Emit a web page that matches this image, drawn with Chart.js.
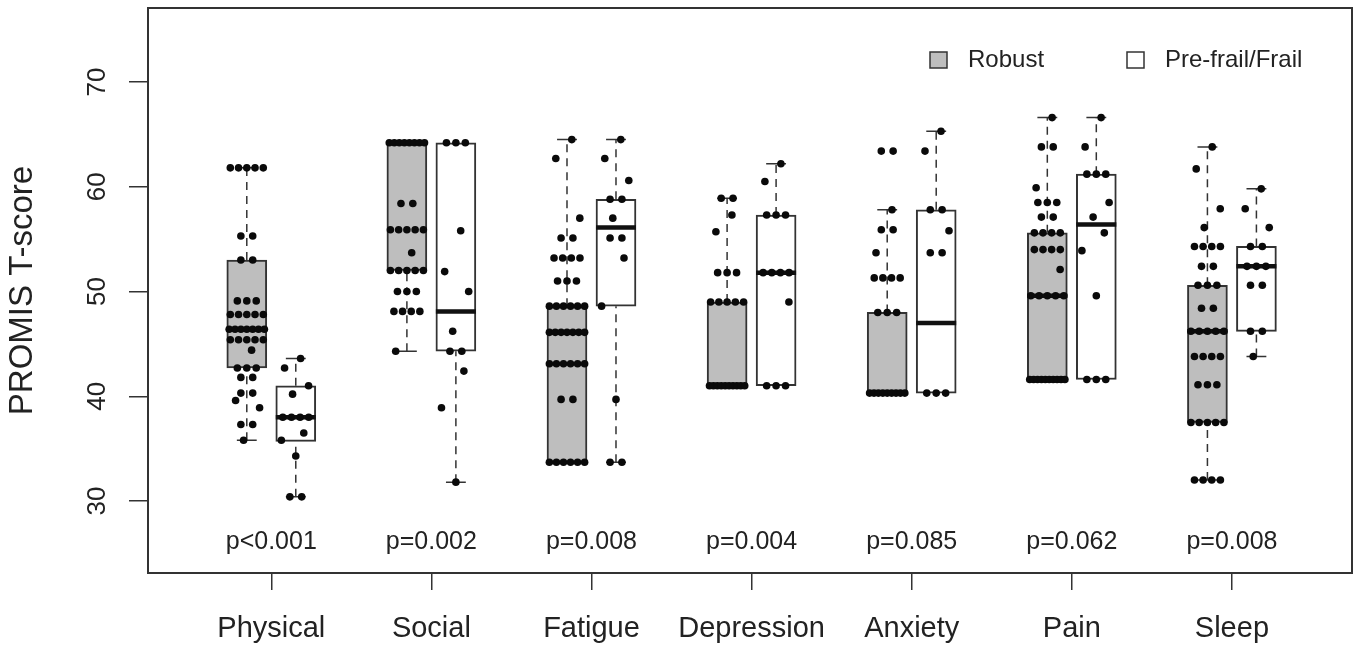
<!DOCTYPE html>
<html>
<head>
<meta charset="utf-8">
<script src="https://cdn.jsdelivr.net/npm/chart.js@4.4.1/dist/chart.umd.min.js"></script>
<style>
  html, body { margin: 0; padding: 0; background: #fff; }
  #wrap { width: 1357px; height: 648px; }
</style>
</head>
<body>
<div id="wrap"><canvas id="chart"></canvas></div>
<script>
"use strict";

const domains = ["Physical", "Social", "Fatigue", "Depression", "Anxiety", "Pain", "Sleep"];
const pValues = ["p<0.001", "p=0.002", "p=0.008", "p=0.004", "p=0.085", "p=0.062", "p=0.008"];
const yTicks = [30, 40, 50, 60, 70];
const groupNames = ["Robust", "Pre-frail/Frail"];

// box statistics, one entry per domain
const robustLow    = [35.8, 44.3, 33.7, 41.0, 40.3, 41.6, 32.0];
const robustQ1     = [42.7, 52.0, 33.7, 41.0, 40.3, 41.6, 37.5];
const robustMedian = [46.4, 64.2, 46.1, 41.0, 40.3, 49.6, 46.2];
const robustQ3     = [53.0, 64.2, 48.6, 49.0, 48.0, 55.6, 50.6];
const robustHigh   = [61.8, 64.2, 64.5, 58.9, 57.8, 66.6, 63.8];

const frailLow    = [30.4, 31.8, 33.7, 41.0, 40.3, 41.6, 43.8];
const frailQ1     = [35.7, 44.3, 48.6, 41.0, 40.3, 41.6, 46.2];
const frailMedian = [38.0, 48.1, 56.1, 51.8, 47.0, 56.4, 52.4];
const frailQ3     = [41.0, 64.2, 58.8, 57.3, 57.8, 61.2, 54.3];
const frailHigh   = [43.6, 64.2, 64.5, 62.2, 65.3, 66.6, 59.8];

// individual T-scores
const robustScores = [
    [61.8, 61.8, 61.8, 61.8, 61.8, 55.3, 55.3, 53.0, 53.0, 49.1, 49.1, 49.1,
     47.8, 47.8, 47.8, 47.8, 47.8, 46.4, 46.4, 46.4, 46.4, 46.4, 46.4, 46.4,
     45.4, 45.4, 45.4, 45.4, 45.4, 44.4, 42.7, 42.7, 42.7, 41.8, 41.8, 40.3, 40.3,
     39.6, 38.9, 37.3, 37.3, 35.8],
    [64.2, 64.2, 64.2, 64.2, 64.2, 64.2, 64.2, 64.2, 58.4, 58.4,
     55.9, 55.9, 55.9, 55.9, 55.9, 53.7, 52.0, 52.0, 52.0, 52.0, 52.0,
     50.0, 50.0, 50.0, 48.1, 48.1, 48.1, 48.1, 44.3],
    [64.5, 62.7, 57.0, 55.1, 55.1, 53.2, 53.2, 53.2, 53.2, 51.0, 51.0, 51.0,
     48.6, 48.6, 48.6, 48.6, 48.6, 48.6, 46.1, 46.1, 46.1, 46.1, 46.1, 46.1, 46.1,
     43.1, 43.1, 43.1, 43.1, 43.1, 43.1, 39.7, 39.7,
     33.7, 33.7, 33.7, 33.7, 33.7, 33.7],
    [58.9, 58.9, 57.3, 55.7, 51.8, 51.8, 51.8, 49.0, 49.0, 49.0, 49.0, 49.0,
     41.0, 41.0, 41.0, 41.0, 41.0, 41.0, 41.0, 41.0, 41.0, 41.0],
    [63.4, 63.4, 57.8, 55.9, 55.9, 53.7, 51.3, 51.3, 51.3, 51.3, 48.0, 48.0, 48.0,
     40.3, 40.3, 40.3, 40.3, 40.3, 40.3, 40.3, 40.3, 40.3],
    [66.6, 63.8, 63.8, 59.9, 58.5, 58.5, 58.5, 57.1, 57.1, 55.6, 55.6, 55.6, 55.6,
     54.0, 54.0, 54.0, 54.0, 52.1, 49.6, 49.6, 49.6, 49.6, 49.6,
     41.6, 41.6, 41.6, 41.6, 41.6, 41.6, 41.6, 41.6, 41.6, 41.6],
    [63.8, 61.7, 57.9, 56.1, 54.3, 54.3, 54.3, 54.3, 52.4, 52.4, 50.6, 50.6, 50.6,
     48.4, 48.4, 46.2, 46.2, 46.2, 46.2, 46.2, 43.8, 43.8, 43.8, 43.8,
     41.1, 41.1, 41.1, 37.5, 37.5, 37.5, 37.5, 37.5, 32.0, 32.0, 32.0, 32.0]
];
const frailScores = [
    [43.6, 42.7, 41.0, 40.2, 38.0, 38.0, 38.0, 38.0, 36.5, 35.8, 34.3, 30.4, 30.4],
    [64.2, 64.2, 64.2, 55.8, 51.9, 50.0, 46.2, 44.3, 44.3, 42.4, 38.9, 31.8],
    [64.5, 62.7, 60.6, 58.8, 58.8, 57.0, 55.1, 55.1, 53.2, 48.6, 39.7, 33.7, 33.7],
    [62.2, 60.5, 57.3, 57.3, 57.3, 51.8, 51.8, 51.8, 51.8, 49.0, 41.0, 41.0, 41.0],
    [65.3, 63.4, 57.8, 57.8, 55.8, 53.7, 53.7, 40.3, 40.3, 40.3],
    [66.6, 63.8, 61.2, 61.2, 61.2, 58.5, 57.1, 55.6, 53.9, 49.6, 41.6, 41.6, 41.6],
    [59.8, 57.9, 56.1, 54.3, 54.3, 52.4, 52.4, 52.4, 50.6, 50.6, 46.2, 46.2, 43.8]
];

const textColor = "#222";
const lineColor = "#333";
const fontFamily = "'Liberation Sans', Arial, Helvetica, sans-serif";

const groupOffset = 0.153;
const halfBox = 0.125;
const halfCap = 0.062;
const jitterPattern = [0.03, -0.07, 0.08, -0.02, 0.05, -0.09, 0.0, 0.06, -0.05];

function groupX(i, g) {
    return i + 1 + (g === 0 ? -groupOffset : groupOffset);
}

function boxData(q1, q3, g) {
    return domains.map((d, i) => ({x: groupX(i, g), y: [q1[i], q3[i]]}));
}

function whiskerData(low, q1, q3, high, g, caps) {
    let out = [];
    domains.forEach((d, i) => {
        const x = groupX(i, g);
        if (high[i] > q3[i]) {
            if (caps) out.push({x: x - halfCap, y: high[i]}, {x: x + halfCap, y: high[i]});
            else out.push({x: x, y: q3[i]}, {x: x, y: high[i]});
            out.push({x: x, y: null});
        }
        if (low[i] < q1[i]) {
            if (caps) out.push({x: x - halfCap, y: low[i]}, {x: x + halfCap, y: low[i]});
            else out.push({x: x, y: low[i]}, {x: x, y: q1[i]});
            out.push({x: x, y: null});
        }
    });
    return out;
}

function medianData(med, g) {
    let out = [];
    domains.forEach((d, i) => {
        const x = groupX(i, g);
        out.push({x: x - halfBox, y: med[i]}, {x: x + halfBox, y: med[i]}, {x: x, y: null});
    });
    return out;
}

function spreadPoints(scores, center) {
    const counts = {};
    scores.forEach(v => counts[v] = (counts[v] || 0) + 1);
    const seen = {};
    let single = 0;
    return scores.map(v => {
        const n = counts[v];
        seen[v] = (seen[v] || 0) + 1;
        let dx;
        if (n === 1) {
            dx = jitterPattern[single++ % jitterPattern.length];
        } else {
            const s = Math.min(0.11, 0.022 * (n - 1) + 0.015);
            dx = -s + 2 * s * (seen[v] - 1) / (n - 1);
        }
        return {x: center + dx, y: v};
    });
}

let points = [];
domains.forEach((d, i) => {
    points = points.concat(spreadPoints(robustScores[i], groupX(i, 0)));
    points = points.concat(spreadPoints(frailScores[i], groupX(i, 1)));
});

function lineSet(data, width, dash, color) {
    return {
        type: "line",
        data: data,
        borderColor: color || lineColor,
        borderWidth: width,
        borderDash: dash,
        borderCapStyle: "butt",
        pointRadius: 0,
        spanGaps: false,
        fill: false,
        order: 1
    };
}

function boxSet(data, fillColor) {
    return {
        type: "bar",
        data: data,
        backgroundColor: fillColor,
        borderColor: lineColor,
        borderWidth: 2,
        borderSkipped: false,
        grouped: false,
        maxBarThickness: 40,
        barPercentage: 1,
        categoryPercentage: 1,
        order: 2
    };
}

const datasets = [
    {
        type: "scatter",
        data: points,
        pointRadius: 3.8,
        pointBackgroundColor: "#0a0a0a",
        pointBorderWidth: 0,
        order: 0
    },
    lineSet(medianData(robustMedian, 0), 4.5, [], "#111"),
    lineSet(medianData(frailMedian, 1), 4.5, [], "#111"),
    lineSet(whiskerData(robustLow, robustQ1, robustQ3, robustHigh, 0, false), 1.5, [8, 6]),
    lineSet(whiskerData(frailLow, frailQ1, frailQ3, frailHigh, 1, false), 1.5, [8, 6]),
    lineSet(whiskerData(robustLow, robustQ1, robustQ3, robustHigh, 0, true), 1.5, []),
    lineSet(whiskerData(frailLow, frailQ1, frailQ3, frailHigh, 1, true), 1.5, []),
    boxSet(boxData(robustQ1, robustQ3, 0), "#bebebe"),
    boxSet(boxData(frailQ1, frailQ3, 1), "#ffffff")
];

const decorations = {
    id: "decorations",
    afterDatasetsDraw(chart) {
        const {ctx, chartArea} = chart;
        ctx.save();
        ctx.strokeStyle = lineColor;
        ctx.lineWidth = 2;
        ctx.strokeRect(chartArea.left, chartArea.top, chartArea.right - chartArea.left, chartArea.bottom - chartArea.top);
        ctx.restore();
    },
    afterDraw(chart) {
        const {ctx} = chart;
        const xs = chart.scales.x;
        const ys = chart.scales.y;
        ctx.save();
        ctx.fillStyle = textColor;

        // y tick labels, written vertically as in the original
        ctx.font = "26px " + fontFamily;
        ctx.textAlign = "center";
        ctx.textBaseline = "middle";
        yTicks.forEach(t => {
            ctx.save();
            ctx.translate(98, ys.getPixelForValue(t));
            ctx.rotate(-Math.PI / 2);
            ctx.fillText(String(t), 0, 0);
            ctx.restore();
        });

        // p-values under each pair of boxes
        ctx.font = "25px " + fontFamily;
        pValues.forEach((p, i) => {
            ctx.fillText(p, xs.getPixelForValue(i + 1), ys.getPixelForValue(26.1));
        });

        // legend
        const fills = ["#bebebe", "#ffffff"];
        const keyX = [930, 1127];
        ctx.font = "24px " + fontFamily;
        ctx.textAlign = "left";
        groupNames.forEach((name, i) => {
            ctx.fillStyle = fills[i];
            ctx.fillRect(keyX[i], 52, 17, 16);
            ctx.strokeStyle = lineColor;
            ctx.lineWidth = 1.5;
            ctx.strokeRect(keyX[i], 52, 17, 16);
            ctx.fillStyle = textColor;
            ctx.fillText(name, keyX[i] + 38, 60);
        });
        ctx.restore();
    }
};

new Chart(document.getElementById("chart"), {
    data: {datasets: datasets},
    options: {
        responsive: true,
        maintainAspectRatio: false,
        animation: false,
        events: [],
        layout: {padding: {top: 8, right: 5, left: 0, bottom: 0}},
        plugins: {
            legend: {display: false},
            tooltip: {enabled: false}
        },
        scales: {
            x: {
                type: "linear",
                min: 0.23,
                max: 7.75,
                offset: false,
                afterBuildTicks: s => { s.ticks = domains.map((d, i) => ({value: i + 1})); },
                afterFit: s => { s.height = 75; },
                border: {display: false},
                grid: {offset: false, drawOnChartArea: false, drawTicks: true, tickLength: 17, color: lineColor, lineWidth: 1.5},
                ticks: {
                    autoSkip: false,
                    maxRotation: 0,
                    padding: 22,
                    color: textColor,
                    font: {family: fontFamily, size: 29},
                    callback: (v, i) => domains[i]
                }
            },
            y: {
                type: "linear",
                min: 23.13,
                max: 77.06,
                afterBuildTicks: s => { s.ticks = yTicks.map(v => ({value: v})); },
                afterFit: s => { s.width = 148; },
                border: {display: false},
                grid: {drawOnChartArea: false, drawTicks: true, tickLength: 19, color: lineColor, lineWidth: 1.5},
                ticks: {display: false},
                title: {
                    display: true,
                    text: "PROMIS T-score",
                    color: textColor,
                    font: {family: fontFamily, size: 33},
                    padding: {top: 3, bottom: 0}
                }
            }
        }
    },
    plugins: [decorations]
});
</script>
</body>
</html>
